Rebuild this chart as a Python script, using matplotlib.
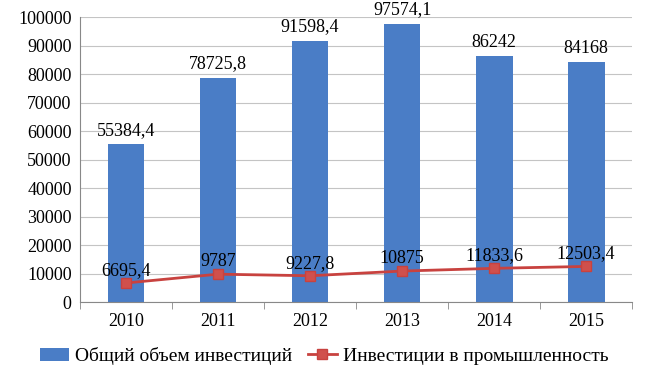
import matplotlib
matplotlib.use('Agg')
from matplotlib import pyplot as plt
import numpy as np

years = ['2010', '2011', '2012', '2013', '2014', '2015']
total = [55384.4, 78725.8, 91598.4, 97574.1, 86242, 84168]
industry = [6695.4, 9787, 9227.8, 10875, 11833.6, 12503.4]
total_labels = ['55384,4', '78725,8', '91598,4', '97574,1', '86242', '84168']
industry_labels = ['6695,4', '9787', '9227,8', '10875', '11833,6', '12503,4']

plt.rcParams['font.family'] = ['Liberation Serif', 'DejaVu Serif']

fig = plt.figure(figsize=(6.48, 3.79), dpi=100)
ax = fig.add_axes([0.1235, 0.203, 0.852, 0.752])

x = np.arange(len(years))
bars = ax.bar(x, total, width=0.4, color='#4A7DC6', zorder=2,
              label='Общий объем инвестиций')
line, = ax.plot(x, industry, color='#C8423F', lw=2, marker='s', ms=7,
                mec='#C8423F', mfc='#D0504C', zorder=3,
                label='Инвестиции в промышленность')

for xi, v, t in zip(x, total, total_labels):
    ax.annotate(t, (xi, v), xytext=(0, 4), textcoords='offset points',
                ha='center', va='bottom', fontsize=13, clip_on=False)
for xi, v, t in zip(x, industry, industry_labels):
    ax.annotate(t, (xi, v), xytext=(0, 3), textcoords='offset points',
                ha='center', va='bottom', fontsize=13, zorder=4)

ax.set_xlim(-0.5, len(years) - 0.5)
ax.set_ylim(0, 100000)
ax.set_yticks(np.arange(0, 100001, 10000))
ax.tick_params(axis='y', length=0, labelsize=13, pad=6)
ax.set_xticks(x)
ax.set_xticklabels(years, fontsize=13)
ax.tick_params(axis='x', length=0, pad=8)
ax.set_xticks(np.arange(-0.5, len(years)), minor=True)
ax.tick_params(axis='x', which='minor', length=5, color='#888888')
ax.grid(axis='y', color='#C4C4C4', lw=0.8, zorder=0)
for s in ['top', 'right']:
    ax.spines[s].set_visible(False)
ax.spines['left'].set_color('#888888')
ax.spines['bottom'].set_color('#888888')

fig.legend(handles=[bars, line], loc='center', bbox_to_anchor=(0.5, 0.06),
           ncol=2, frameon=False, fontsize=14, handlelength=1.5,
           columnspacing=0.8, handletextpad=0.3)

fig.savefig('out.png', dpi=100)
